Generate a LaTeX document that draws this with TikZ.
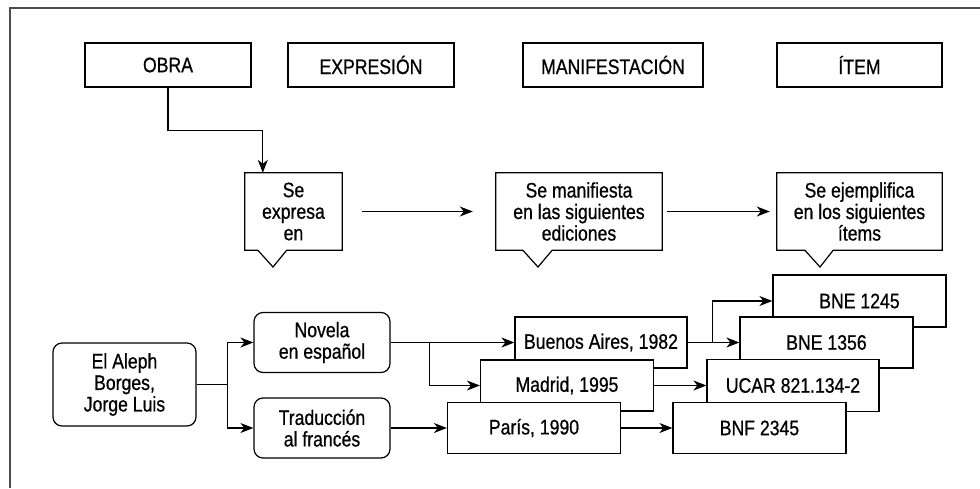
\documentclass[tikz,border=0pt]{standalone}
\usepackage{fontspec}
\setmainfont{Liberation Sans}[FakeStretch=0.84,FakeBold=0.7]
\usetikzlibrary{arrows.meta}
\begin{document}
\begin{tikzpicture}[x=1pt,y=-1pt,
  every node/.style={font=\fontsize{21}{21.5}\selectfont, align=center, inner sep=0pt},
  box/.style={draw, line width=1.2pt, fill=white, rectangle},
  rbox/.style={draw, line width=1.2pt, fill=white, rounded corners=9pt},
  calltext/.style={minimum width=#1, minimum height=77pt},
  outline/.style={draw, line width=1.2pt, line join=miter},
  arr/.style={line width=1.2pt, -{Stealth[length=13pt,width=10pt,inset=4pt]}}
]
\useasboundingbox (0,0) rectangle (980,488);
\draw[line width=1.4pt, black!70] (980,8) -- (10,8) -- (10,488);

% top headers
\node[box, minimum width=166pt, minimum height=44pt] (obra) at (168,65) {OBRA};
\node[box, minimum width=166pt, minimum height=44pt] (expr) at (371,65) {EXPRESIÓN};
\node[box, minimum width=180pt, minimum height=44pt] (manif) at (613,65) {MANIFESTACIÓN};
\node[box, minimum width=165pt, minimum height=44pt] (item) at (859.5,65) {ÍTEM};

% callouts
\node[calltext=97pt] (sex) at (293.5,211.5) {Se\\expresa\\en};
\draw[outline] (sex.south west) -- (sex.north west) -- (sex.north east) -- (sex.south east)
  -- ([xshift=-55.5pt]sex.south east) -- (273,267) -- ([xshift=13pt]sex.south west) -- cycle;
\node[calltext=166pt] (man) at (579,211.5) {Se manifiesta\\en las siguientes\\ediciones};
\draw[outline] (man.south west) -- (man.north west) -- (man.north east) -- (man.south east)
  -- ([xshift=-110pt]man.south east) -- (538,267) -- ([xshift=27pt]man.south west) -- cycle;
\node[calltext=165pt] (eje) at (859.5,211.5) {Se ejemplifica\\en los siguientes\\ítems};
\draw[outline] (eje.south west) -- (eje.north west) -- (eje.north east) -- (eje.south east)
  -- ([xshift=-109pt]eje.south east) -- (820,267) -- ([xshift=28pt]eje.south west) -- cycle;

\draw[arr] (obra.south) -- ++(0,43) -| ([xshift=18pt]sex.north west);
\draw[arr, shorten <=20pt, shorten >=23pt] (sex.east) -- (man.west);
\draw[arr, shorten <=5pt, shorten >=7pt] (man.east) -- (eje.west);

% works
\node[rbox, minimum width=143pt, minimum height=83pt] (aleph) at (124.5,384.5) {El Aleph\\Borges,\\Jorge Luis};
\node[rbox, minimum width=136pt, minimum height=60pt] (nov) at (322,342.5) {Novela\\en español};
\node[rbox, minimum width=136pt, minimum height=60pt] (tra) at (322,428) {Traducción\\al francés};

% editions
\node[box, minimum width=172pt, minimum height=51pt] (ba) at (601,342.5) {Buenos Aires, 1982};
\node[box, minimum width=173pt, minimum height=51pt] (mad) at (567,385.5) {Madrid, 1995};
\node[box, minimum width=173pt, minimum height=51pt] (par) at (534,428) {París, 1990};

% items
\node[box, minimum width=173pt, minimum height=52pt] (b1245) at (859.5,301) {BNE 1245};
\node[box, minimum width=173pt, minimum height=51pt] (b1356) at (826.5,342.5) {BNE 1356};
\node[box, minimum width=172pt, minimum height=52pt] (ucar) at (793,385.5) {UCAR 821.134-2};
\node[box, minimum width=173pt, minimum height=51pt] (bnf) at (759.5,428) {BNF 2345};

% connectors
\draw[arr] (aleph.east) -- ++(31,0) |- (nov.west);
\draw[arr] (aleph.east) -- ++(31,0) |- (tra.west);
\draw[arr] (nov.east) -- (nov.east -| ba.west);
\draw[arr] (nov.east) -- ++(39,0) |- (mad.west);
\draw[arr] (tra.east) -- (tra.east -| par.west);
\draw[arr] (ba.east) -- (ba.east -| b1356.west);
\draw[arr] (ba.east) -- ++(25,0) |- (b1245.west);
\draw[arr] (mad.east) -- (mad.east -| ucar.west);
\draw[arr] (par.east) -- (par.east -| bnf.west);
\end{tikzpicture}
\end{document}
